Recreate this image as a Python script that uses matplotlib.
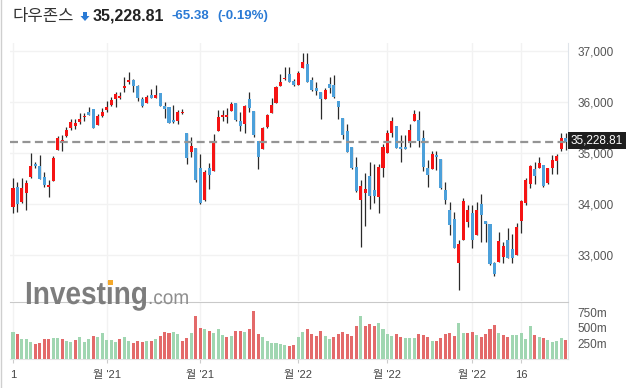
import numpy as np
import matplotlib.pyplot as plt
from matplotlib.font_manager import FontProperties
from matplotlib.lines import Line2D
from matplotlib.patches import FancyArrow, PathPatch, Rectangle
from matplotlib.textpath import TextPath
from matplotlib.transforms import Affine2D, IdentityTransform, blended_transform_factory

W, H = 634, 388

# daily candles, 2021-10-01 .. 2022-03-30
opens = [33951, 34344, 34049, 34226, 34527, 34790, 34750, 34540, 34344, 34462,
         35058, 35228, 35340, 35503, 35536, 35621, 35713, 35818, 35864, 35556,
         35733, 35851, 35949, 36067, 36093, 36289, 36407, 36440, 36322, 36067,
         35995, 36145, 36093, 36185, 35936, 35910, 35654, 35641, 35785, 35399,
         35032, 35097, 34704, 34082, 34711, 34658, 35444, 35720, 35720, 35837,
         35981, 35634, 35569, 36067, 35831, 35241, 35084, 35510, 35798, 35981,
         36329, 36453, 36558, 36420, 36342, 36669, 36754, 36440, 36289, 36211,
         36067, 36361, 36342, 36027, 35687, 35438, 35117, 34724, 34082, 34213,
         34554, 34278, 34147, 34718, 34999, 35405, 35536, 35130, 35130, 35196,
         35641, 35654, 35294, 34717, 34691, 34966, 34888, 34278, 33885, 33702,
         32851, 33296, 33656, 33820, 33394, 34003, 33676, 33610, 32838, 32870,
         32968, 33296, 33113, 33001, 33676, 34016, 34396, 34691, 34717, 34770,
         34423, 34717, 34855, 35085, 35300]
highs = [34508, 34429, 34508, 34475, 34999, 34835, 34966, 34639, 34475, 34947,
         35346, 35359, 35510, 35667, 35667, 35798, 35798, 35903, 35864, 35772,
         35883, 36034, 36100, 36211, 36211, 36506, 36591, 36453, 36342, 36112,
         36145, 36257, 36335, 36185, 36014, 35910, 35942, 35851, 35864, 35399,
         35313, 35097, 34980, 34680, 34816, 35372, 35851, 35851, 35883, 36014,
         35981, 35805, 35949, 36211, 35831, 35241, 35510, 35772, 36080, 36322,
         36558, 36702, 36702, 36453, 36617, 36964, 36964, 36492, 36407, 36211,
         36289, 36506, 36539, 36027, 35687, 35569, 35117, 34920, 34475, 34606,
         34835, 34789, 34789, 35183, 35458, 35706, 35536, 35352, 35352, 35575,
         35851, 35837, 35458, 34868, 35051, 35051, 34888, 34442, 34036, 33840,
         33296, 34115, 33984, 33984, 34036, 34193, 33676, 33620, 32870, 33460,
         33263, 33525, 33414, 33637, 34082, 34521, 34770, 34822, 34920, 34770,
         34717, 34966, 34986, 35392, 35392]
lows = [33820, 33840, 34020, 33886, 34520, 34704, 34488, 34344, 34134, 34462,
        35058, 35051, 35313, 35458, 35471, 35575, 35641, 35746, 35490, 35549,
        35720, 35811, 35936, 35916, 36067, 36211, 36361, 36198, 36027, 35910,
        35981, 36080, 36080, 35920, 35687, 35589, 35589, 35569, 35772, 34789,
        34920, 34442, 34006, 34070, 34292, 34658, 35444, 35641, 35602, 35837,
        35640, 35438, 35405, 35818, 35313, 34685, 35084, 35490, 35798, 35981,
        36329, 36440, 36398, 36329, 36342, 36669, 36400, 36230, 36145, 35667,
        36067, 36191, 36080, 35667, 35280, 35020, 34700, 34246, 33165, 33571,
        33899, 34030, 33833, 34540, 34999, 35313, 35100, 34822, 35077, 35117,
        35641, 35130, 34652, 34331, 34691, 34672, 34292, 33997, 33394, 33130,
        32313, 33296, 33558, 33132, 33394, 33263, 33263, 32812, 32595, 32870,
        32837, 32936, 32837, 33001, 33427, 33984, 34311, 34396, 34717, 34340,
        34396, 34586, 34586, 35052, 35065]
closes = [34326.46, 34002.92, 34314.67, 34416.99, 34754.94, 34746.25, 34496.06, 34378.34, 34377.81, 34912.56,
          35294.76, 35258.61, 35457.31, 35609.34, 35603.08, 35677.02, 35741.15, 35756.88, 35490.69, 35730.48,
          35819.56, 35913.84, 36052.63, 36157.58, 36124.23, 36327.95, 36432.22, 36319.98, 36079.94, 35921.23,
          36100.31, 36087.45, 36142.22, 35931.05, 35870.95, 35601.98, 35619.25, 35813.80, 35804.38, 34899.34,
          35135.94, 34483.72, 34022.04, 34639.79, 34580.08, 35227.03, 35719.43, 35754.69, 35754.10, 35970.99,
          35650.95, 35544.18, 35927.43, 35897.64, 35365.44, 34932.16, 35492.70, 35753.89, 35950.56, 36302.38,
          36398.21, 36488.63, 36398.08, 36338.30, 36585.06, 36799.65, 36407.11, 36236.47, 36231.66, 36068.87,
          36252.02, 36290.32, 36113.62, 35911.81, 35368.47, 35028.65, 34715.39, 34265.37, 34364.50, 34297.73,
          34168.09, 34160.78, 34725.47, 35131.86, 35405.24, 35629.33, 35111.16, 35089.74, 35091.13, 35462.78,
          35768.06, 35241.59, 34738.06, 34566.17, 34988.84, 34934.27, 34312.03, 34079.18, 33596.61, 33131.76,
          33223.83, 34058.75, 33892.60, 33294.95, 33891.35, 33794.66, 33614.80, 32817.38, 32632.64, 33286.25,
          33174.07, 32944.19, 32945.24, 33544.34, 34063.10, 34480.76, 34754.93, 34552.99, 34807.46, 34358.50,
          34707.94, 34861.24, 34955.89, 35294.19, 35228.81]
# volume in millions
volumes = [430, 398, 317, 317, 269, 242, 253, 317, 317, 333,
           333, 317, 285, 269, 301, 349, 269, 317, 366, 349,
           414, 301, 301, 269, 317, 349, 285, 253, 285, 269,
           285, 285, 317, 366, 430, 414, 430, 398, 285, 333,
           414, 693, 495, 478, 446, 414, 478, 382, 349, 366,
           446, 446, 430, 478, 769, 398, 349, 285, 253, 253,
           237, 220, 204, 220, 349, 430, 478, 398, 366, 446,
           366, 317, 349, 398, 430, 398, 366, 527, 693, 527,
           559, 527, 575, 478, 398, 366, 398, 349, 333, 333,
           333, 398, 382, 349, 285, 285, 333, 398, 414, 366,
           575, 414, 414, 430, 382, 349, 398, 478, 543, 414,
           382, 349, 382, 382, 414, 317, 527, 382, 349, 333,
           301, 269, 285, 333, 301]
prev_close = 33843.92
last_price = 35228.81
change = -65.38
change_pct = -0.19

tick_pos = [0, 21, 42, 64, 84, 103, 114]
tick_labels = ['1', "월 '21", "월 '21", "월 '22", "월 '22", "월 '22", '16']
price_ticks = [33000, 34000, 35000, 36000, 37000]
vol_ticks = [250, 500, 750]

plt.rcParams['font.family'] = ['Liberation Sans', 'Noto Sans CJK KR', 'DejaVu Sans']

o = np.array(opens, float)
h = np.array(highs, float)
l = np.array(lows, float)
c = np.array(closes, float)
x = np.arange(len(c))

up = c >= o
candle_colors = np.where(up, '#f51414', '#4ca0da')
prev = np.concatenate(([prev_close], c[:-1]))
vol_colors = np.where(c > prev, '#a0d6b1', '#e36a6a')

fig = plt.figure(figsize=(W / 100, H / 100), dpi=100)
ax = fig.add_axes([10 / W, 1 - 301 / H, 558 / W, 258 / H])
axv = fig.add_axes([10 / W, 1 - 359 / H, 558 / W, 57 / H])

xlim = (-0.67, 124.5)

ax.vlines(x, l, h, color='#2a2a2a', lw=0.9, zorder=3)
ax.bar(x, np.maximum(np.abs(c - o), 12), bottom=np.minimum(o, c), width=0.68,
       color=candle_colors, linewidth=0, zorder=4)
ax.axhline(last_price, color='#949494', lw=1.6, ls=(0, (3.6, 2.0)), zorder=5)

ax.set_xlim(*xlim)
ax.set_ylim(32098, 37167)
ax.set_xticks(tick_pos)
ax.set_yticks(price_ticks)
ax.set_yticklabels([f'{v:,}' for v in price_ticks])
ax.yaxis.tick_right()
ax.tick_params(axis='x', length=0, labelbottom=False)
ax.tick_params(axis='y', length=0, pad=7, labelsize=8.5, labelcolor='#555555')
ax.grid(True, color='#f2f2f2', lw=1)
ax.set_axisbelow(True)
for s in ['top', 'left', 'bottom']:
    ax.spines[s].set_visible(False)
ax.spines['right'].set_color('#dfe4ea')

tr = blended_transform_factory(ax.transAxes, ax.transData)
ax.annotate(f'{last_price:,.2f}', xy=(1.0, last_price), xycoords=tr,
            xytext=(3, 1), textcoords='offset pixels', ha='left', va='center',
            color='white', fontsize=8.5, zorder=10, annotation_clip=False,
            bbox=dict(boxstyle='square,pad=0.22', fc='#1e1e1e', ec='none'))

axv.bar(x, volumes, width=0.68, color=vol_colors, linewidth=0, zorder=3)
axv.set_xlim(*xlim)
axv.set_ylim(0, 919)
axv.set_xticks(tick_pos)
axv.set_xticklabels(tick_labels)
axv.set_yticks(vol_ticks)
axv.set_yticklabels([f'{v}m' for v in vol_ticks])
axv.yaxis.tick_right()
axv.tick_params(axis='x', length=3, color='#cccccc', pad=5, labelsize=8, labelcolor='#444444')
axv.tick_params(axis='y', length=0, pad=7, labelsize=8.5, labelcolor='#555555')
axv.grid(True, axis='x', color='#f2f2f2', lw=1)
axv.set_axisbelow(True)
axv.spines['left'].set_visible(False)
axv.spines['top'].set_color('#c9c9c9')
axv.spines['right'].set_color('#dfe4ea')
axv.spines['bottom'].set_color('#e4e4e4')

# header
ty = 1 - 16 / H
fig.text(12 / W, ty, '다우존스', fontsize=12, color='#333333', va='center',
         family=['Noto Sans CJK KR', 'DejaVu Sans'])
fig.add_artist(FancyArrow(85 / W, 1 - 12 / H, 0, -4 / H, width=4 / W,
                          head_width=9 / W, head_length=5 / H,
                          length_includes_head=False, transform=fig.transFigure,
                          color='#2a7ad5', lw=0))
fig.text(93 / W, ty, f'{last_price:,.2f}', fontsize=11.5, fontweight='bold',
         color='#222222', va='center')
fig.text(171 / W, ty, f'{change:.2f}', fontsize=9.5, fontweight='bold',
         color='#2a7ad5', va='center')
fig.text(217 / W, ty, f'({change_pct:.2f}%)', fontsize=9.5, fontweight='bold',
         color='#2a7ad5', va='center')

# watermark, squeezed horizontally like the logo
logo = TextPath((0, 0), 'Investing', size=1,
                prop=FontProperties(family='Liberation Sans', weight='bold'))
fig.add_artist(PathPatch(logo, transform=Affine2D().scale(28, 32).translate(25, H - 304),
                         fc='#7d7d7d', ec='none'))
fig.add_artist(Rectangle((107.5, H - 285), 5, 5, transform=IdentityTransform(),
                         fc='#f4a82a', ec='none'))
dotcom = TextPath((0, 0), '.com', size=1, prop=FontProperties(family='Liberation Sans'))
fig.add_artist(PathPatch(dotcom, transform=Affine2D().scale(19, 20).translate(148, H - 304),
                         fc='#8e8e8e', ec='none'))

fig.add_artist(Line2D([0.6 / W, 0.6 / W], [0, 1], transform=fig.transFigure,
                      color='#cfcfcf', lw=1))

fig.savefig('out.png', dpi=100)
